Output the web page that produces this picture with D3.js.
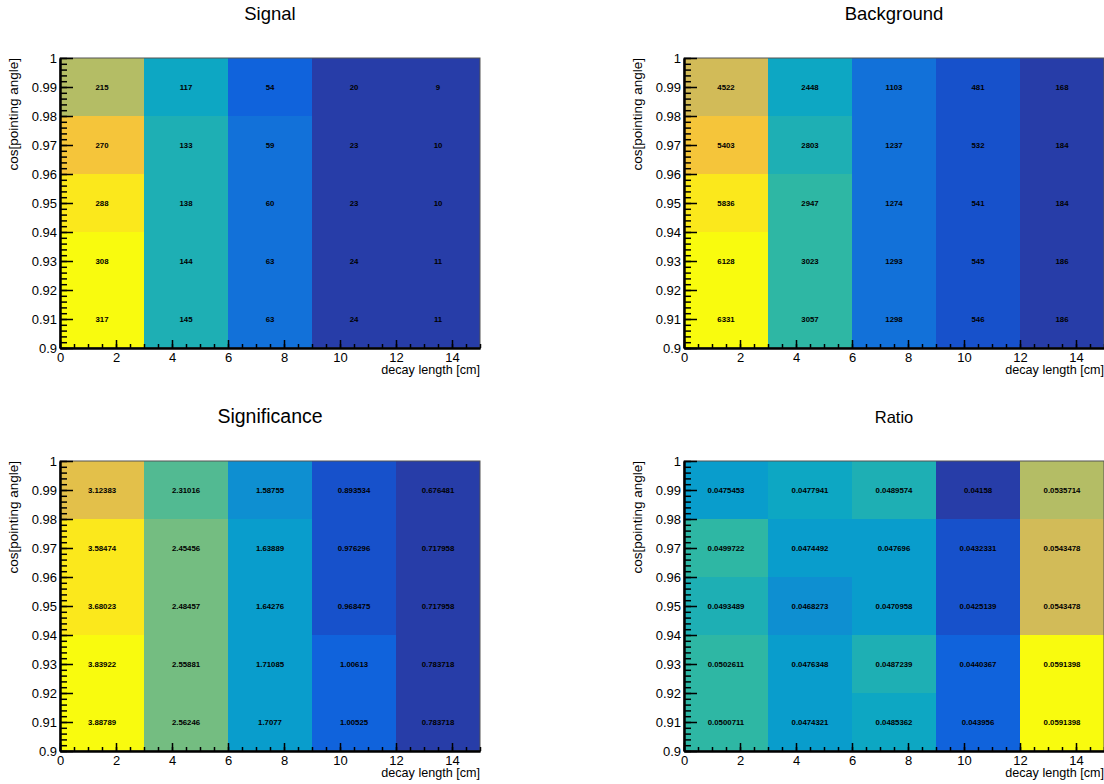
<!DOCTYPE html>
<html><head>
<meta charset="utf-8">
<script src="https://cdn.jsdelivr.net/npm/d3@7"></script>
<style>
body{margin:0;background:#fff;}
svg{display:block;font-family:"Liberation Sans",Arial,Helvetica,sans-serif;}
.cell text{font-size:7.8px;font-weight:bold;fill:#000;}
</style>
</head><body>
<svg id="canvas" width="1104" height="784"></svg>
<script>
// bin edges
var xEdges = [0, 3, 6, 9, 12, 15];
var yEdges = [0.90, 0.92, 0.94, 0.96, 0.98, 1.00];

// values: one row per y bin, from bottom (0.90-0.92) to top (0.98-1.00)
var signalValues = [
  [317, 145, 63, 24, 11],
  [308, 144, 63, 24, 11],
  [288, 138, 60, 23, 10],
  [270, 133, 59, 23, 10],
  [215, 117, 54, 20, 9]
];
var backgroundValues = [
  [6331, 3057, 1298, 546, 186],
  [6128, 3023, 1293, 545, 186],
  [5836, 2947, 1274, 541, 184],
  [5403, 2803, 1237, 532, 184],
  [4522, 2448, 1103, 481, 168]
];
var significanceValues = [
  [3.88789, 2.56246, 1.7077, 1.00525, 0.783718],
  [3.83922, 2.55881, 1.71085, 1.00613, 0.783718],
  [3.68023, 2.48457, 1.64276, 0.968475, 0.717958],
  [3.58474, 2.45456, 1.63889, 0.976296, 0.717958],
  [3.12383, 2.31016, 1.58755, 0.893534, 0.676481]
];
var ratioValues = [
  [0.0500711, 0.0474321, 0.0485362, 0.043956, 0.0591398],
  [0.0502611, 0.0476348, 0.0487239, 0.0440367, 0.0591398],
  [0.0493489, 0.0468273, 0.0470958, 0.0425139, 0.0543478],
  [0.0499722, 0.0474492, 0.047696, 0.0432331, 0.0543478],
  [0.0475453, 0.0477941, 0.0489574, 0.04158, 0.0535714]
];

var xTitle = "decay length [cm]";
var yTitle = "cos[pointing angle]";

// bird palette (ROOT kBird)
var birdStops = [0, 0.125, 0.25, 0.375, 0.5, 0.625, 0.75, 0.875, 1];
var birdColors = ["rgb(53,42,135)", "rgb(15,92,221)", "rgb(20,129,214)", "rgb(6,164,202)",
  "rgb(46,183,164)", "rgb(135,191,119)", "rgb(209,187,89)", "rgb(254,200,50)", "rgb(249,251,14)"];
var nContours = 20, nColors = 255;

var panels = [
  {title: "Signal", values: signalValues, left: 60, top: 58, titleSize: 18.5},
  {title: "Background", values: backgroundValues, left: 684, top: 58, titleSize: 18.5},
  {title: "Significance", values: significanceValues, left: 60, top: 461, titleSize: 19.5},
  {title: "Ratio", values: ratioValues, left: 684, top: 461, titleSize: 16.5}
];
var plotW = 420, plotH = 290;

var palette = d3.scaleLinear().domain(birdStops).range(birdColors).interpolate(d3.interpolateRgb);
var fmt = d3.format(".6~g");
var svg = d3.select("#canvas");

panels.forEach(function(p){
  var g = svg.append("g").attr("transform", "translate(" + p.left + "," + p.top + ")");
  var x = d3.scaleLinear().domain([xEdges[0], xEdges[xEdges.length-1]]).range([0, plotW]);
  var y = d3.scaleLinear().domain([yEdges[0], yEdges[yEdges.length-1]]).range([plotH, 0]);

  var flat = d3.merge(p.values);
  var zmin = d3.min(flat), zmax = d3.max(flat);
  // same level -> colour rule as ROOT's COLZ painter
  function colorOf(v){
    var k = Math.floor(0.01 + nContours * (v - zmin) / (zmax - zmin));
    k = Math.max(0, Math.min(nContours - 1, k));
    var idx = Math.floor((k + 0.99) * nColors / nContours);
    return palette(Math.min(idx, nColors - 1) / (nColors - 1));
  }

  var cells = [];
  p.values.forEach(function(row, j){
    row.forEach(function(v, i){ cells.push({i: i, j: j, v: v}); });
  });

  var cell = g.selectAll(".cell").data(cells).enter().append("g").attr("class", "cell");
  cell.append("rect")
    .attr("x", function(d){ return x(xEdges[d.i]); })
    .attr("y", function(d){ return y(yEdges[d.j+1]); })
    .attr("width", function(d){ return x(xEdges[d.i+1]) - x(xEdges[d.i]); })
    .attr("height", function(d){ return y(yEdges[d.j]) - y(yEdges[d.j+1]); })
    .attr("fill", function(d){ return colorOf(d.v); })
    .attr("shape-rendering", "crispEdges");
  cell.append("text")
    .attr("x", function(d){ return x((xEdges[d.i] + xEdges[d.i+1]) / 2); })
    .attr("y", function(d){ return y((yEdges[d.j] + yEdges[d.j+1]) / 2); })
    .attr("text-anchor", "middle")
    .attr("dominant-baseline", "central")
    .text(function(d){ return fmt(d.v); });

  // frame
  g.append("rect").attr("width", plotW).attr("height", plotH)
    .attr("fill", "none").attr("stroke", "#555").attr("stroke-width", 1);

  // x axis (ticks inside)
  var xMinor = g.append("g").attr("transform", "translate(0," + plotH + ")")
    .call(d3.axisBottom(x).tickValues(x.ticks(30)).tickSize(-4).tickSizeOuter(0).tickFormat(""));
  var xMajor = g.append("g").attr("transform", "translate(0," + plotH + ")")
    .call(d3.axisBottom(x).tickValues(x.ticks(8)).tickSize(-8).tickSizeOuter(0).tickPadding(5));
  // y axis (ticks inside)
  var yMinor = g.append("g")
    .call(d3.axisLeft(y).tickValues(y.ticks(50)).tickSize(-7).tickSizeOuter(0).tickFormat(""));
  var yMajor = g.append("g")
    .call(d3.axisLeft(y).tickValues(y.ticks(10)).tickSize(-13).tickSizeOuter(0).tickPadding(3)
      .tickFormat(function(d){ return String(+d.toFixed(2)); }));

  [xMinor, xMajor, yMinor, yMajor].forEach(function(a){
    a.selectAll("path.domain").attr("stroke", "#000").attr("stroke-width", 2);
    a.selectAll(".tick line").attr("stroke", "#000").attr("stroke-width", 1.5);
    a.selectAll(".tick text").attr("font-size", 13).attr("fill", "#000")
      .attr("font-family", "'Liberation Sans',Arial,sans-serif");
  });

  // axis titles
  g.append("text").attr("x", plotW).attr("y", plotH + 26)
    .attr("text-anchor", "end").attr("font-size", 12.6).text(xTitle);
  g.append("text").attr("transform", "translate(-42,0) rotate(-90)")
    .attr("text-anchor", "end").attr("font-size", 13.5).text(yTitle);

  // title
  svg.append("text").attr("x", p.left + plotW / 2).attr("y", p.top - 38)
    .attr("text-anchor", "middle").attr("font-size", p.titleSize).text(p.title);
});
</script>
</body></html>
